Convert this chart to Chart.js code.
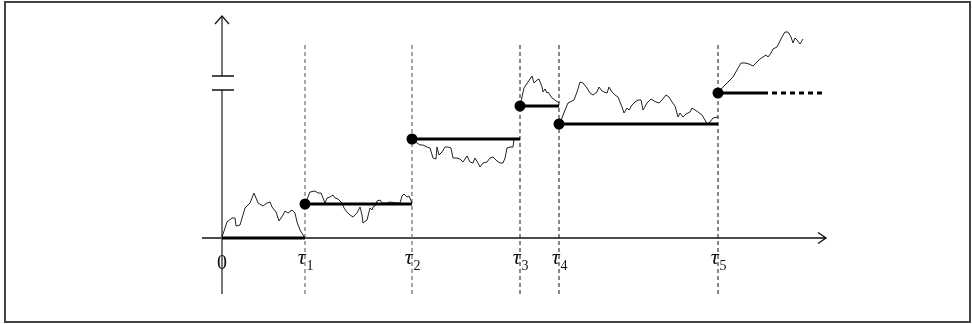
<!DOCTYPE html>
<html>
<head>
<meta charset="utf-8">
<script src="https://cdn.jsdelivr.net/npm/chart.js@4.4.1/dist/chart.umd.min.js"></script>
<style>
    html, body { margin: 0; padding: 0; background: #fff; }
</style>
</head>
<body>
<canvas id="grafico" width="972" height="324"></canvas>
<script>
// stopping times on the time axis and their subscripts
const tau = [83, 190, 298, 337, 496];
const tauLabels = ['1', '2', '3', '4', '5'];
// level held on each interval (the first one starts at 0)
const levels = [0, 34, 99, 132, 114, 145];
const levelEnd = 541;       // last level, solid part
const levelDashEnd = 600;   // last level, dashed continuation

// axes extents and the break on the vertical axis
const axisX = [-20, 604];
const axisY = [-56, 222];
const yBreak = [148, 162];
const guideTop = 194;

// sample path pieces, one per interval [t, value]
const path0 = [[0,1],[5,16],[10,20],[13,20],[14,12],[18,13],[23,30],[28,35],[32,45],[36,35],[41,32],[45,35],[48,36],[50,31],[54,26],[57,17],[61,23],[63,27],[66,25],[70,28],[73,25],[75,16],[78,8],[83,0]];
const path1 = [[83,34],[88,46],[93,47],[96,45],[99,45],[101,40],[103,35],[105,40],[108,41],[111,43],[113,40],[116,39],[120,35],[122,30],[125,26],[128,23],[131,21],[135,25],[138,31],[140,23],[141,15],[145,18],[148,30],[150,28],[151,31],[153,32],[155,37],[158,38],[160,35],[165,35],[168,36],[175,35],[178,35],[180,42],[182,44],[185,41],[187,42],[190,35]];
const path2 = [[190,99],[195,95],[198,93],[201,93],[205,91],[208,90],[211,80],[214,79],[215,91],[217,83],[220,86],[223,91],[226,91],[229,90],[231,80],[235,80],[238,79],[241,76],[245,82],[248,76],[251,75],[253,80],[256,75],[258,71],[261,75],[265,76],[268,80],[271,81],[275,77],[278,75],[281,75],[283,80],[285,90],[288,91],[291,91],[292,99]];
const path3 = [[298,132],[300,141],[302,150],[306,156],[310,162],[312,155],[315,158],[317,159],[320,151],[321,146],[323,149],[325,145],[326,146],[328,143],[330,140],[333,138],[337,135]];
const path4 = [[337,114],[340,120],[343,128],[346,135],[350,137],[352,138],[355,146],[358,156],[361,155],[365,150],[368,145],[371,143],[375,146],[377,151],[380,147],[382,146],[385,145],[387,151],[390,146],[393,143],[396,141],[400,131],[402,125],[405,130],[407,128],[410,133],[413,136],[416,138],[419,138],[421,128],[425,135],[429,139],[434,136],[437,135],[440,138],[444,143],[447,141],[450,136],[453,132],[456,121],[458,125],[461,121],[464,124],[468,126],[470,130],[473,128],[476,126],[480,123],[483,118],[485,114],[488,116],[491,120],[496,121]];
const path5 = [[496,145],[501,151],[506,156],[511,161],[515,168],[519,175],[523,175],[527,174],[531,172],[535,176],[538,179],[541,181],[544,183],[546,181],[549,185],[551,189],[555,191],[557,195],[560,201],[563,206],[566,206],[569,201],[571,195],[573,200],[575,198],[578,194],[581,199]];

const pts = arr => arr.map(p => ({ x: p[0], y: p[1] }));

function lineSet(data, color, width, dash, order) {
    return {
        data: data,
        borderColor: color,
        borderWidth: width,
        borderDash: dash || [],
        pointRadius: 0,
        tension: 0,
        fill: false,
        order: order
    };
}

const datasets = [];

// jump points
datasets.push({
    data: tau.map((t, i) => ({ x: t, y: levels[i + 1] })),
    showLine: false,
    pointRadius: 5.5,
    pointBackgroundColor: '#000',
    pointBorderWidth: 0,
    order: 0
});

// held levels
const starts = [0].concat(tau);
const ends = tau.concat([levelEnd]);
levels.forEach((lv, i) => {
    datasets.push(lineSet([{ x: starts[i], y: lv }, { x: ends[i], y: lv }], '#000', 3, null, 1));
});
datasets.push(lineSet([{ x: levelEnd, y: levels[5] }, { x: levelDashEnd, y: levels[5] }], '#000', 3, [5, 4], 1));

// sample path
[path0, path1, path2, path3, path4, path5].forEach(p => {
    datasets.push(lineSet(pts(p), '#222', 1, null, 2));
});

// dashed guides at the stopping times
tau.forEach((t, i) => {
    const c = i < 2 ? '#777' : '#111';
    datasets.push(lineSet([{ x: t, y: axisY[0] }, { x: t, y: guideTop }], c, i < 2 ? 1.3 : 1, [4, 3], 3));
});

// axes, arrows, break, frame and labels
const decor = {
    id: 'decor',
    beforeDatasetsDraw(chart) {
        const ctx = chart.ctx;
        const x = chart.scales.x, y = chart.scales.y;
        const x0 = x.getPixelForValue(0), y0 = y.getPixelForValue(0);
        ctx.save();
        ctx.strokeStyle = '#444';
        ctx.lineWidth = 2;
        ctx.strokeRect(5, 2, chart.width - 7, chart.height - 4);

        // horizontal axis
        const xe = x.getPixelForValue(axisX[1]);
        ctx.strokeStyle = '#111';
        ctx.lineWidth = 1.3;
        ctx.beginPath();
        ctx.moveTo(x.getPixelForValue(axisX[0]), y0);
        ctx.lineTo(xe, y0);
        ctx.moveTo(xe - 8, y0 - 5.5);
        ctx.lineTo(xe, y0);
        ctx.lineTo(xe - 8, y0 + 5.5);
        ctx.stroke();

        // vertical axis with break
        const yt = y.getPixelForValue(axisY[1]);
        const b1 = y.getPixelForValue(yBreak[1]), b0 = y.getPixelForValue(yBreak[0]);
        ctx.strokeStyle = '#555';
        ctx.lineWidth = 1.6;
        ctx.beginPath();
        ctx.moveTo(x0, y.getPixelForValue(axisY[0]));
        ctx.lineTo(x0, b0);
        ctx.moveTo(x0, b1);
        ctx.lineTo(x0, yt);
        ctx.stroke();
        ctx.strokeStyle = '#111';
        ctx.lineWidth = 1.2;
        ctx.beginPath();
        ctx.moveTo(x0 - 7, yt + 8);
        ctx.lineTo(x0, yt);
        ctx.lineTo(x0 + 7, yt + 8);
        ctx.stroke();
        ctx.lineWidth = 1.5;
        ctx.beginPath();
        ctx.moveTo(x0 - 10, b1);
        ctx.lineTo(x0 + 12, b1);
        ctx.moveTo(x0 - 10, b0);
        ctx.lineTo(x0 + 12, b0);
        ctx.stroke();
        ctx.restore();
    },
    afterDraw(chart) {
        const ctx = chart.ctx;
        const x = chart.scales.x;
        const base = chart.scales.y.getPixelForValue(0) + 31;
        ctx.save();
        ctx.fillStyle = '#111';
        ctx.textBaseline = 'alphabetic';
        ctx.font = '20px "Liberation Serif"';
        ctx.textAlign = 'center';
        ctx.fillText('0', x.getPixelForValue(0), base);
        tau.forEach((t, i) => {
            const px = x.getPixelForValue(t);
            ctx.font = 'italic 22px "Liberation Serif"';
            ctx.textAlign = 'right';
            ctx.fillText('\u03C4', px + 0.5, base - 5);
            ctx.font = '14px "Liberation Serif"';
            ctx.textAlign = 'left';
            ctx.fillText(tauLabels[i], px + 1.5, base + 1);
        });
        ctx.restore();
    }
};

new Chart(document.getElementById('grafico').getContext('2d'), {
    type: 'line',
    data: { datasets: datasets },
    options: {
        responsive: false,
        animation: false,
        devicePixelRatio: 1,
        layout: { padding: 0, autoPadding: false },
        plugins: { legend: { display: false }, tooltip: { enabled: false } },
        scales: {
            x: { type: 'linear', display: false, min: -222, max: 750 },
            y: { type: 'linear', display: false, min: -86, max: 238 }
        }
    },
    plugins: [decor]
});
</script>
</body>
</html>
